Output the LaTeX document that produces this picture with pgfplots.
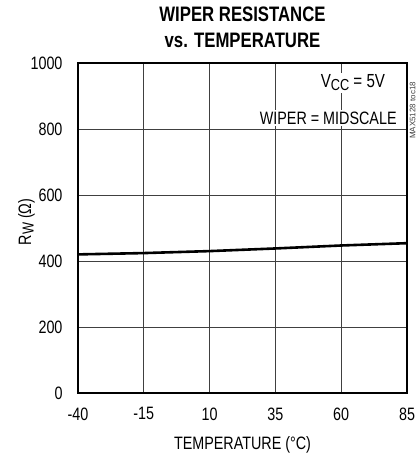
\documentclass[border=0pt]{standalone}
\usepackage{pgfplots}
\pgfplotsset{compat=1.18}
\usepackage{fontspec}
\setmainfont[FakeStretch=0.8]{Liberation Sans}
\newfontfamily\plainfont{Liberation Sans}
\newcommand{\sub}[1]{\raisebox{-2.5bp}{\fontsize{16}{18}\selectfont #1}}
\begin{document}
\begin{tikzpicture}
\useasboundingbox (-78bp,-62bp) rectangle (339bp,393bp);
\begin{axis}[
  at={(0,0)}, anchor=south west,
  scale only axis,
  width=329bp, height=330bp,
  xmin=-40, xmax=85, ymin=0, ymax=1000,
  xtick={-40,-15,10,35,60,85},
  ytick={0,200,400,600,800,1000},
  grid=major,
  grid style={black!75, line width=0.8bp},
  axis line style={line width=2.5bp},
  tick style={draw=none},
  /pgf/number format/assume math mode=true,
  /pgf/number format/set thousands separator={},
  ticklabel style={font=\fontsize{18}{20}\selectfont},
  xticklabel style={yshift=-11bp},
  yticklabel style={xshift=-12bp},
  xlabel={TEMPERATURE (°C)},
  ylabel={R\sub{W} (Ω)},
  label style={font=\fontsize{18}{20}\selectfont},
  xlabel style={yshift=-9bp},
  ylabel style={yshift=-11bp, xshift=6bp},
  title={\textbf{WIPER RESISTANCE}\\\textbf{vs. TEMPERATURE}},
  title style={font=\fontsize{21}{26}\selectfont, align=center, yshift=6bp},
  clip=false,
]
\addplot[black, line width=2.6bp] coordinates {(-40,420) (-15,424) (10,430) (35,438) (60,447) (85,454)};
\node[anchor=east, font=\fontsize{19}{21}\selectfont, fill=white, inner sep=2bp] at (rel axis cs:0.94,0.94) {V\sub{CC} = 5V};
\node[anchor=east, font=\fontsize{18}{20}\selectfont, fill=white, inner sep=2bp] at (rel axis cs:0.975,0.833) {WIPER = MIDSCALE};
\node[rotate=90, anchor=west, font=\plainfont\fontsize{8}{9}\selectfont, text=black!75, inner sep=0pt] at ([xshift=5.5bp,yshift=-76bp]rel axis cs:1,1) {MAX5128 toc18};
\end{axis}
\end{tikzpicture}
\end{document}
